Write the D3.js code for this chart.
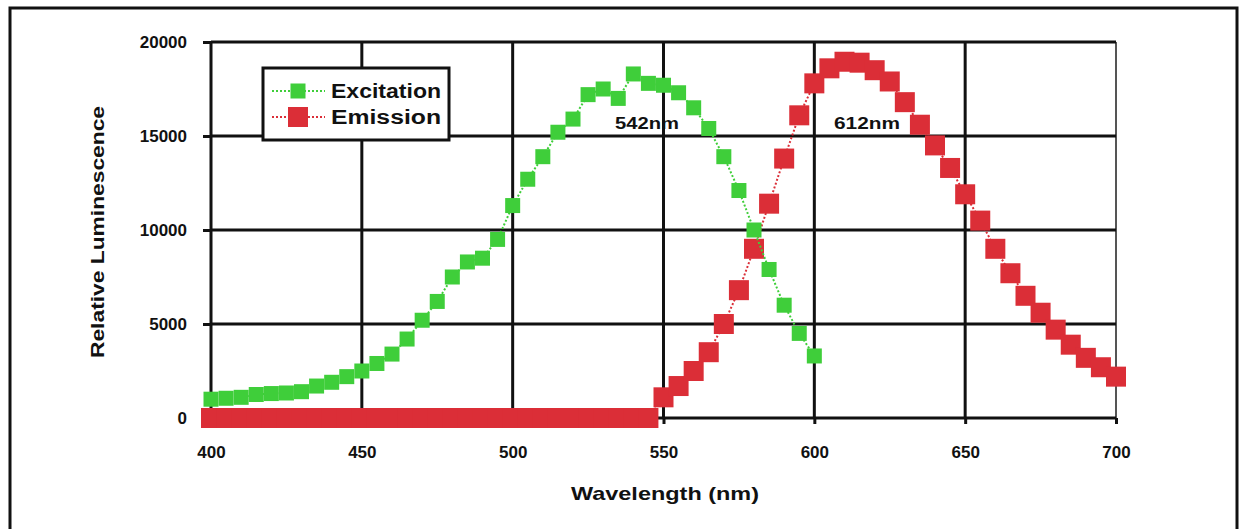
<!DOCTYPE html>
<html>
<head>
<meta charset="utf-8">
<script src="https://cdn.jsdelivr.net/npm/d3@7"></script>
<style>
  body { margin: 0; background: #fff; }
  svg { display: block; }
  text { font-family: "Liberation Sans", Arial, sans-serif; font-weight: bold; fill: #111; }
</style>
</head>
<body>
<svg id="chart" width="1243" height="529"></svg>
<script>
// wavelengths (nm), one sample every 5 nm
var excitationNm = d3.range(400, 601, 5);
var excitation = [1000, 1050, 1100, 1250, 1300, 1330, 1400, 1700, 1900, 2200,
                  2500, 2900, 3400, 4200, 5200, 6200, 7500, 8300, 8500, 9500,
                  11300, 12700, 13900, 15200, 15900, 17200, 17500, 17000, 18300, 17800,
                  17700, 17300, 16500, 15400, 13900, 12100, 10000, 7900, 6000, 4500,
                  3300];

var emissionNm = d3.range(400, 701, 5);
var emission = [0, 0, 0, 0, 0, 0, 0, 0, 0, 0,
                0, 0, 0, 0, 0, 0, 0, 0, 0, 0,
                0, 0, 0, 0, 0, 0, 0, 0, 0, 0,
                1100, 1700, 2500, 3500, 5000, 6800, 9000, 11400, 13800, 16100,
                17800, 18600, 18950, 18900, 18500, 17900, 16800, 15600, 14500, 13300,
                11900, 10500, 9000, 7700, 6500, 5600, 4700, 3900, 3200, 2700,
                2200];

var xTicks = [400, 450, 500, 550, 600, 650, 700];
var yTicks = [0, 5000, 10000, 15000, 20000];

var seriesNames = ["Excitation", "Emission"];
var peakLabels = ["542nm", "612nm"];

var green = "#3fce3a",
    red = "#db2e37";

var svg = d3.select("#chart");

// scanned page frame
svg.append("rect")
  .attr("x", 10).attr("y", 8)
  .attr("width", 1227).attr("height", 560)
  .attr("fill", "none").attr("stroke", "#111").attr("stroke-width", 3);

var x = d3.scaleLinear().domain([400, 700]).range([211, 1116]);
var y = d3.scaleLinear().domain([0, 20000]).range([418, 42]);

// grid
var grid = svg.append("g").attr("stroke", "#111").attr("stroke-width", 3);
grid.selectAll(".vg").data(xTicks).enter().append("line")
  .attr("x1", function(d) { return x(d); }).attr("x2", function(d) { return x(d); })
  .attr("y1", y(20000)).attr("y2", y(0))
  .attr("stroke-width", function(d) { return d == 700 ? 2 : 3; })
  .attr("stroke", function(d) { return d == 700 ? "#555" : "#111"; });
grid.selectAll(".hg").data(yTicks).enter().append("line")
  .attr("x1", x(400)).attr("x2", x(700))
  .attr("y1", function(d) { return y(d); }).attr("y2", function(d) { return y(d); });

// axes (labels + outer ticks)
var yAxis = svg.append("g")
  .attr("transform", "translate(" + x(400) + ",0)")
  .call(d3.axisLeft(y).tickValues(yTicks).tickSize(8).tickPadding(16).tickFormat(d3.format("d")));
var xAxis = svg.append("g")
  .attr("transform", "translate(0," + y(0) + ")")
  .call(d3.axisBottom(x).tickValues(xTicks).tickSize(6).tickPadding(22).tickFormat(d3.format("d")));

[yAxis, xAxis].forEach(function(a) {
  a.select(".domain").remove();
  a.selectAll(".tick line").attr("stroke", "#111").attr("stroke-width", 3);
  a.selectAll(".tick text")
    .attr("fill", "#111")
    .style("font-family", "'Liberation Sans', Arial, sans-serif")
    .style("font-weight", "bold")
    .style("font-size", "17px");
});

// axis titles
svg.append("text")
  .attr("x", 665).attr("y", 500)
  .attr("text-anchor", "middle")
  .attr("textLength", 188).attr("lengthAdjust", "spacingAndGlyphs")
  .style("font-size", "19px")
  .text("Wavelength (nm)");

svg.append("text")
  .attr("transform", "translate(104,232) rotate(-90)")
  .attr("text-anchor", "middle")
  .attr("textLength", 252).attr("lengthAdjust", "spacingAndGlyphs")
  .style("font-size", "18px")
  .text("Relative Luminescence");

// series
function drawSeries(nm, vals, color, size) {
  var pts = nm.map(function(d, i) { return [d, vals[i]]; });
  var g = svg.append("g");
  g.append("path")
    .datum(pts)
    .attr("fill", "none")
    .attr("stroke", color)
    .attr("stroke-width", 2)
    .attr("stroke-dasharray", "2,2")
    .attr("d", d3.line().x(function(d) { return x(d[0]); }).y(function(d) { return y(d[1]); }));
  g.selectAll("rect").data(pts).enter().append("rect")
    .attr("x", function(d) { return x(d[0]) - size / 2; })
    .attr("y", function(d) { return y(d[1]) - size / 2; })
    .attr("width", size).attr("height", size)
    .attr("fill", color);
}

drawSeries(emissionNm, emission, red, 20);
drawSeries(excitationNm, excitation, green, 15);

// peak annotations
svg.append("text").attr("x", 615).attr("y", 129)
  .attr("textLength", 64).attr("lengthAdjust", "spacingAndGlyphs")
  .style("font-size", "17px").text(peakLabels[0]);
svg.append("text").attr("x", 834).attr("y", 129)
  .attr("textLength", 66).attr("lengthAdjust", "spacingAndGlyphs")
  .style("font-size", "17px").text(peakLabels[1]);

// legend
var legend = svg.append("g");
legend.append("rect")
  .attr("x", 263).attr("y", 68).attr("width", 186).attr("height", 72)
  .attr("fill", "#fff").attr("stroke", "#111").attr("stroke-width", 3);

var legendRows = [
  { name: seriesNames[0], color: green, size: 15, dy: 91 },
  { name: seriesNames[1], color: red, size: 20, dy: 117 }
];
legendRows.forEach(function(r) {
  legend.append("line")
    .attr("x1", 272).attr("x2", 325)
    .attr("y1", r.dy).attr("y2", r.dy)
    .attr("stroke", r.color).attr("stroke-width", 2)
    .attr("stroke-dasharray", "2,2");
  legend.append("rect")
    .attr("x", 298 - r.size / 2).attr("y", r.dy - r.size / 2)
    .attr("width", r.size).attr("height", r.size)
    .attr("fill", r.color);
  legend.append("text")
    .attr("x", 331).attr("y", r.dy + 7)
    .attr("textLength", 110).attr("lengthAdjust", "spacingAndGlyphs")
    .style("font-size", "20px")
    .text(r.name);
});
</script>
</body>
</html>
